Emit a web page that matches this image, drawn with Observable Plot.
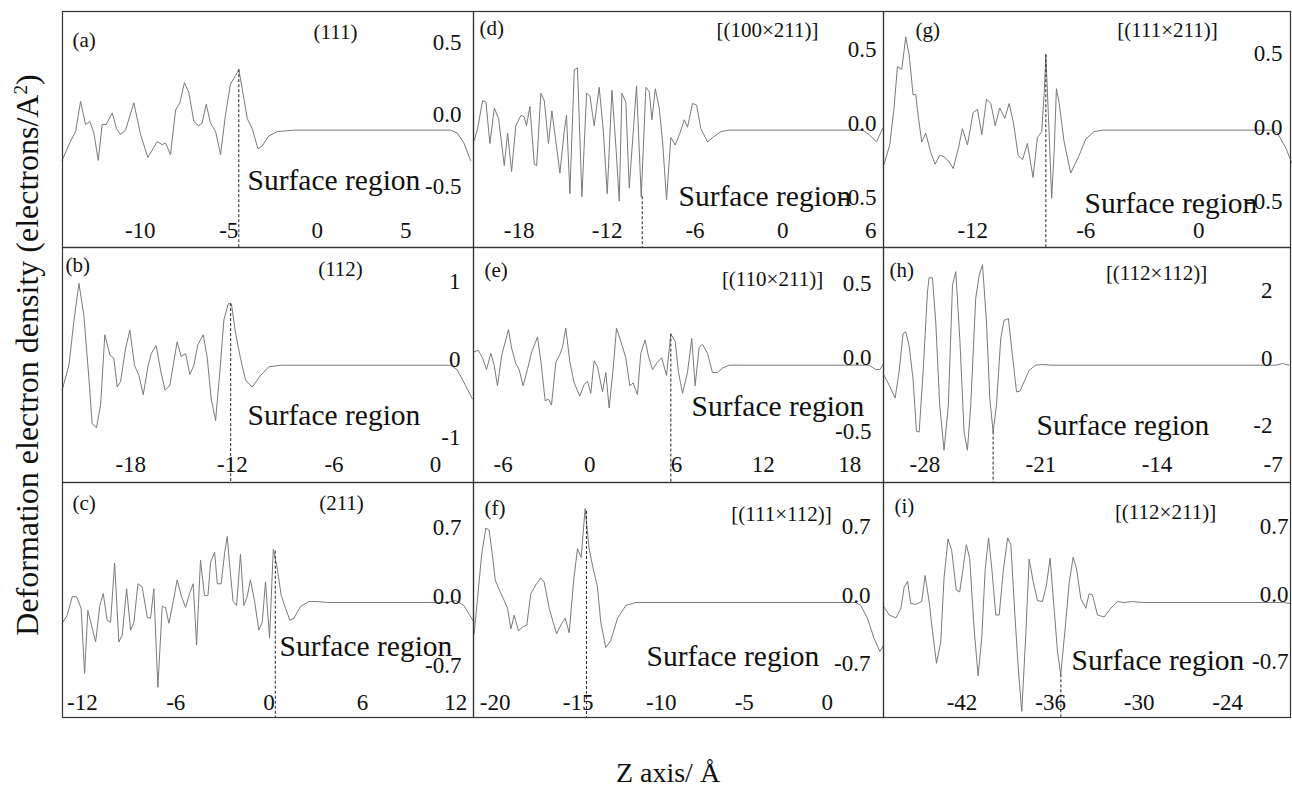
<!DOCTYPE html>
<html>
<head>
<meta charset="utf-8">
<script src="https://cdn.jsdelivr.net/npm/d3@7"></script>
<script src="https://cdn.jsdelivr.net/npm/@observablehq/plot@0.6"></script>
<style>
  body { margin: 0; background: #fff; }
  #page { position: relative; width: 1292px; height: 789px; overflow: hidden;
          font-family: "Liberation Serif", "Times New Roman", serif; color: #111; }
  .panel { position: absolute; }
  .panel svg { display: block; overflow: visible; }
  #ylab { position: absolute; left: 27px; top: 355px; line-height: 1; font-size: 32px;
          white-space: nowrap; transform: translate(-50%, -50%) rotate(-90deg); }
  #ylab sup { font-size: 60%; }
  #xlab { position: absolute; left: 668px; top: 759px; line-height: 1; font-size: 28px;
          white-space: nowrap; transform: translateX(-50%); }
</style>
</head>
<body>
<div id="page">
  <div id="ylab">Deformation electron density (electrons/A<sup>2</sup>)</div>
  <div id="xlab">Z axis/ Å</div>
</div>
<script>
// ---------- data (Z in Å, deformation density in electrons/Å²) ----------
const aZ = [-14.41,-14.03,-13.65,-13.37,-13.09,-12.84,-12.62,-12.37,-12.15,-11.92,-11.58,-11.34,-11.11,-10.83,-10.36,-9.98,-9.57,-9.04,-8.76,-8.57,-8.29,-8.00,-7.76,-7.50,-7.25,-6.97,-6.69,-6.50,-6.27,-6.03,-5.74,-5.46,-5.18,-4.90,-4.61,-4.43,-4.24,-3.95,-3.67,-3.35,-3.11,-2.73,-2.26,-1.32,7.53,7.91,8.29,8.66];
const aRho = [-0.21,-0.10,-0.01,0.20,0.04,0.06,-0.02,-0.21,0.04,0.04,0.12,0.01,-0.03,0.00,0.19,-0.03,-0.19,-0.08,-0.10,-0.09,-0.17,0.14,0.19,0.33,0.26,0.06,0.03,0.05,0.18,0.05,-0.01,-0.17,0.11,0.32,0.38,0.42,0.29,0.08,0.01,-0.13,-0.11,-0.04,-0.01,0.00,0.00,-0.02,-0.09,-0.21];

const bZ = [-22.05,-21.65,-21.36,-21.06,-20.77,-20.47,-20.28,-20.02,-19.78,-19.53,-19.23,-19.00,-18.80,-18.60,-18.31,-18.05,-17.78,-17.52,-17.26,-16.99,-16.79,-16.50,-16.24,-15.98,-15.69,-15.26,-15.02,-14.76,-14.51,-14.27,-14.04,-13.72,-13.48,-13.25,-12.99,-12.74,-12.50,-12.24,-12.05,-11.81,-11.52,-11.22,-10.83,-10.33,-9.84,-9.15,0.89,1.28,1.77,2.17];
const bRho = [-0.32,0.00,0.56,1.05,0.64,-0.17,-0.75,-0.80,-0.51,0.39,0.13,0.09,-0.28,-0.21,0.21,0.45,0.00,-0.13,-0.38,-0.02,0.15,0.25,-0.06,-0.32,-0.26,0.30,0.11,0.15,-0.12,0.00,0.26,0.39,0.09,-0.43,-0.71,-0.09,0.58,0.79,0.78,0.41,0.09,-0.19,-0.28,-0.13,-0.02,0.00,0.00,-0.06,-0.26,-0.43];

const cZ = [-13.30,-12.98,-12.65,-12.38,-12.08,-11.86,-11.65,-11.37,-11.15,-10.88,-10.66,-10.41,-10.19,-9.93,-9.66,-9.44,-9.16,-8.90,-8.69,-8.43,-8.16,-7.83,-7.62,-7.41,-7.15,-6.87,-6.66,-6.44,-6.16,-5.91,-5.65,-5.37,-5.09,-4.88,-4.66,-4.41,-4.15,-3.93,-3.76,-3.50,-3.33,-3.08,-2.86,-2.69,-2.52,-2.31,-2.09,-1.84,-1.62,-1.41,-1.20,-0.93,-0.66,-0.44,-0.23,0.03,0.27,0.52,0.78,1.06,1.34,1.59,2.02,2.56,3.09,3.74,11.45,11.99,12.52,13.17];
const cRho = [-0.21,-0.13,0.06,0.06,-0.06,-0.72,-0.08,-0.26,-0.40,-0.03,0.09,-0.18,-0.20,0.40,-0.40,-0.33,0.14,-0.28,-0.20,0.19,0.16,-0.15,-0.16,0.14,-0.86,-0.04,-0.05,-0.21,0.01,0.23,0.07,-0.05,0.10,0.19,-0.43,0.43,0.07,0.07,0.41,0.51,0.19,0.19,0.50,0.67,0.35,0.01,-0.03,0.49,-0.03,0.06,0.23,0.01,-0.28,-0.20,0.21,-0.36,0.54,0.35,0.07,-0.06,-0.18,-0.16,-0.04,0.01,0.01,0.00,0.00,0.02,-0.03,-0.20];

const dZ = [-21.07,-20.84,-20.50,-20.27,-20.00,-19.70,-19.41,-19.02,-18.79,-18.52,-18.23,-17.88,-17.66,-17.50,-17.27,-16.97,-16.81,-16.52,-16.29,-16.00,-15.77,-15.49,-15.22,-14.93,-14.77,-14.54,-14.24,-14.02,-13.72,-13.40,-13.17,-12.88,-12.54,-12.26,-11.99,-11.67,-11.40,-11.17,-10.99,-10.72,-10.49,-9.99,-9.67,-9.35,-9.12,-8.94,-8.71,-8.44,-8.21,-7.94,-7.65,-7.35,-7.03,-6.73,-6.51,-6.17,-5.89,-5.60,-5.14,-4.80,-4.23,-3.66,5.44,5.89,6.39,6.80];
const dRho = [-0.07,0.01,0.20,0.19,-0.09,0.15,0.08,-0.24,-0.02,-0.28,0.03,0.10,0.09,0.03,0.16,-0.23,-0.24,0.25,0.20,-0.09,0.13,-0.08,-0.29,-0.01,0.10,-0.43,0.41,0.42,-0.45,0.25,0.23,0.03,0.29,0.00,-0.43,0.27,-0.11,-0.48,0.25,0.19,-0.39,0.30,-0.45,0.29,0.26,0.07,0.28,0.15,-0.08,-0.47,-0.05,-0.10,-0.02,0.07,0.02,0.18,0.17,0.01,-0.08,-0.05,-0.01,0.00,0.00,-0.03,-0.08,0.01];

const eZ = [-8.01,-7.71,-7.43,-7.15,-6.85,-6.62,-6.39,-6.09,-5.63,-5.40,-5.12,-4.89,-4.62,-4.32,-4.02,-3.62,-3.39,-3.09,-2.86,-2.65,-2.35,-2.08,-1.89,-1.66,-1.38,-1.08,-0.69,-0.39,-0.16,0.07,0.30,0.53,0.88,1.11,1.34,1.62,1.85,2.15,2.49,2.77,3.00,3.30,3.53,3.83,4.06,4.34,4.68,4.98,5.31,5.61,5.91,6.14,6.42,6.76,7.06,7.29,7.57,7.80,8.15,8.49,8.84,9.19,9.65,10.34,19.34,19.80,20.08,20.33];
const eRho = [0.09,0.10,0.05,-0.03,0.08,0.00,-0.14,0.07,0.24,0.11,0.01,-0.03,-0.14,-0.03,0.09,0.19,0.03,-0.24,-0.23,-0.27,0.02,0.07,0.12,0.25,0.02,-0.12,-0.21,-0.13,-0.11,-0.19,0.03,-0.01,-0.18,-0.05,-0.29,-0.02,0.25,0.16,0.05,-0.14,-0.12,-0.20,0.08,0.17,0.06,-0.03,0.02,0.05,-0.07,0.21,0.16,-0.05,-0.19,-0.05,0.18,-0.14,0.12,0.14,0.08,-0.05,-0.05,-0.02,0.00,0.00,0.00,-0.03,-0.03,0.01];

const fZ = [-21.26,-21.06,-20.80,-20.56,-20.36,-20.19,-19.99,-19.75,-19.45,-19.25,-19.05,-18.85,-18.59,-18.35,-18.09,-17.85,-17.55,-17.25,-17.05,-16.74,-16.54,-16.30,-16.04,-15.78,-15.54,-15.28,-15.04,-14.82,-14.58,-14.34,-14.10,-13.84,-13.64,-13.34,-13.04,-12.63,-12.13,-11.53,1.71,2.01,2.41,2.82,3.16,3.38];
const fRho = [-0.32,0.04,0.50,0.76,0.74,0.52,0.23,0.13,0.02,-0.06,-0.27,-0.13,-0.29,-0.25,-0.23,0.09,0.18,0.25,0.21,-0.06,-0.18,-0.32,-0.23,-0.16,-0.31,0.21,0.55,0.46,0.96,0.55,0.35,0.16,-0.20,-0.46,-0.39,-0.16,-0.03,0.00,0.00,-0.03,-0.16,-0.37,-0.50,-0.44];

const gZ = [-16.71,-16.41,-16.18,-16.00,-15.77,-15.56,-15.38,-15.17,-15.03,-14.88,-14.71,-14.50,-14.23,-14.00,-13.75,-13.52,-13.27,-13.04,-12.76,-12.55,-12.28,-11.98,-11.75,-11.52,-11.27,-11.04,-10.81,-10.57,-10.30,-10.07,-9.84,-9.59,-9.36,-9.10,-8.80,-8.57,-8.34,-8.21,-8.12,-8.00,-7.81,-7.68,-7.56,-7.42,-7.15,-6.80,-6.35,-6.00,-5.56,-5.12,3.91,4.18,4.62,4.97];
const gRho = [-0.23,-0.10,0.15,0.43,0.41,0.63,0.51,0.24,0.24,0.08,-0.08,-0.02,-0.15,-0.23,-0.17,-0.18,-0.21,-0.26,-0.12,0.01,-0.10,0.12,0.14,-0.03,0.21,0.18,0.03,0.15,0.08,0.18,0.05,-0.17,-0.20,-0.09,-0.32,-0.05,-0.01,0.25,0.51,0.15,-0.46,-0.15,0.28,0.19,-0.08,-0.29,-0.17,-0.06,-0.01,0.00,0.00,-0.02,-0.12,-0.23];

const hZ = [-30.45,-30.15,-29.79,-29.55,-29.31,-29.15,-28.95,-28.71,-28.50,-28.34,-28.10,-27.84,-27.74,-27.54,-27.34,-27.10,-26.84,-26.58,-26.33,-26.13,-25.89,-25.63,-25.43,-25.23,-24.93,-24.72,-24.52,-24.28,-24.08,-23.88,-23.68,-23.42,-23.22,-22.96,-22.72,-22.47,-22.27,-22.01,-21.71,-21.31,-20.91,-20.30,-6.84,-6.44,-6.04];
const hRho = [-0.30,-0.59,-0.97,-0.20,0.94,0.99,0.59,-0.40,-1.96,-1.98,-0.20,2.17,2.59,2.59,1.28,-1.19,-2.52,-1.19,2.37,2.77,0.79,-1.98,-2.52,-1.19,1.98,2.67,2.98,1.28,-0.99,-1.98,-1.19,0.79,1.33,1.38,0.30,-0.79,-0.77,-0.49,-0.15,0.00,0.02,0.00,0.00,0.05,0.00];

const iZ = [-47.27,-46.93,-46.48,-46.14,-45.92,-45.69,-45.47,-45.14,-44.73,-44.50,-44.23,-44.00,-43.73,-43.44,-43.22,-42.95,-42.70,-42.39,-42.16,-41.93,-41.71,-41.48,-41.18,-40.91,-40.66,-40.43,-40.20,-39.98,-39.71,-39.48,-39.21,-38.91,-38.69,-38.40,-38.17,-37.95,-37.68,-37.45,-37.18,-36.89,-36.55,-36.28,-36.03,-35.76,-35.53,-35.31,-35.01,-34.74,-34.47,-34.24,-33.95,-33.61,-33.39,-33.16,-32.82,-32.37,-31.92,-31.47,-31.01,-30.45,-29.77,-20.28,-19.72];
const iRho = [-0.05,-0.13,-0.16,-0.06,0.16,0.22,-0.01,-0.02,0.01,0.28,0.01,-0.30,-0.63,-0.41,0.25,0.66,0.54,0.13,0.11,0.35,0.60,0.46,-0.27,-0.76,-0.36,0.34,0.67,0.35,-0.13,-0.13,0.32,0.67,0.60,-0.17,-0.72,-1.13,-0.34,0.45,0.22,0.02,0.01,0.18,0.46,-0.06,-0.51,-0.75,-0.27,0.20,0.47,0.35,0.04,-0.06,0.09,0.08,-0.13,-0.15,-0.06,0.01,0.00,0.01,0.00,0.00,-0.01];

// surface boundary (dashed line): position and starting density
const dashZ   = { a: -4.43, b: -12.1, c: 0.4,  d: -9.6,  e: 5.61, f: -14.5, g: -8.12, h: -23.88, i: -35.3 };
const dashRho = { a: 0.42,  b: 0.79,  c: 0.52, d: -0.45, e: 0.21, f: 0.93,  g: 0.51,  h: -1.98,  i: -0.75 };

// tick labels
const xTicks = { a: [-10,-5,0,5], b: [-18,-12,-6,0], c: [-12,-6,0,6,12],
                 d: [-18,-12,-6,0,6], e: [-6,0,6,12,18], f: [-20,-15,-10,-5,0],
                 g: [-12,-6,0], h: [-28,-21,-14,-7], i: [-42,-36,-30,-24] };
const yTicks = { a: [-0.5,0,0.5], b: [-1,0,1], c: [-0.7,0,0.7],
                 d: [-0.5,0,0.5], e: [-0.5,0,0.5], f: [-0.7,0,0.7],
                 g: [-0.5,0,0.5], h: [-2,0,2], i: [-0.7,0,0.7] };
const yDecimals = { a: 1, b: 0, c: 1, d: 1, e: 1, f: 1, g: 1, h: 0, i: 1 };

const panelLabels = { a: "(a)", b: "(b)", c: "(c)", d: "(d)", e: "(e)", f: "(f)", g: "(g)", h: "(h)", i: "(i)" };
const panelTitles = { a: "(111)", b: "(112)", c: "(211)", d: "[(100×211)]", e: "[(110×211)]",
                      f: "[(111×112)]", g: "[(111×211)]", h: "[(112×112)]", i: "[(112×211)]" };
const surfaceText = "Surface region";

// ---------- layout ----------
const colLeft = [62, 473, 883], colWidth = [411, 410, 407];
const rowTop = [11, 247, 482], rowHeight = [236, 235, 235];

const series = { a: [aZ, aRho], b: [bZ, bRho], c: [cZ, cRho], d: [dZ, dRho], e: [eZ, eRho],
                 f: [fZ, fRho], g: [gZ, gRho], h: [hZ, hRho], i: [iZ, iRho] };

// per-panel view: axis domains and text placement (pixels inside the panel)
const view = {
  a: { col: 0, row: 0, xd: [-14.39, 8.83],  yd: [-0.815, 0.824], ydx: -12, ydy: -16, xdy: -17,
       lab: [10, 29], tit: [273, 21], sur: [185, 169] },
  b: { col: 0, row: 1, xd: [-22.03, 2.24],  yd: [-1.504, 1.509], ydx: -13, ydy: -6, xdy: -18,
       lab: [3, 18], tit: [278, 22], sur: [185, 168] },
  c: { col: 0, row: 2, xd: [-13.28, 13.14], yd: [-1.166, 1.217], ydx: -12, ydy: -6, xdy: -15,
       lab: [10, 21], tit: [279, 21], sur: [217, 164] },
  d: { col: 1, row: 0, xd: [-21.12, 6.87],  yd: [-0.793, 0.802], ydx: -7, ydy: -7, xdy: -17,
       lab: [6, 17], tit: [294, 19], sur: [205, 185] },
  e: { col: 1, row: 1, xd: [-8.05, 20.33],  yd: [-0.793, 0.795], ydx: -12, ydy: -8, xdy: -18,
       lab: [11, 23], tit: [299, 32], sur: [218, 159] },
  f: { col: 1, row: 2, xd: [-21.30, 3.38],  yd: [-1.175, 1.226], ydx: -13, ydy: -7, xdy: -15,
       lab: [11, 26], tit: [308, 32], sur: [173, 174] },
  g: { col: 2, row: 0, xd: [-16.74, 4.87],  yd: [-0.793, 0.802], ydx: -8, ydy: -3, xdy: -17,
       lab: [32, 19], tit: [284, 19], sur: [201, 192] },
  h: { col: 2, row: 1, xd: [-30.49, -5.95], yd: [-3.476, 3.487], ydx: -18, ydy: -7, xdy: -18,
       lab: [6, 23], tit: [273, 26], sur: [153, 178] },
  i: { col: 2, row: 2, xd: [-47.32, -19.74], yd: [-1.193, 1.245], ydx: -2, ydy: -8, xdy: -15,
       lab: [11, 24], tit: [282, 30], sur: [188, 178] }
};

const page = document.getElementById("page");
const FONT = '"Liberation Serif", "Times New Roman", serif';

for (const k of Object.keys(view)) {
  const v = view[k];
  const [zs, rs] = series[k];
  const pts = zs.map((z, j) => ({ z, rho: rs[j] }));
  const w = colWidth[v.col], h = rowHeight[v.row];
  const dec = yDecimals[k];
  const chart = Plot.plot({
    width: w, height: h, margin: 0,
    x: { domain: v.xd, label: null },
    y: { domain: v.yd, label: null },
    style: { background: "transparent", overflow: "visible", fontFamily: FONT, color: "#111" },
    marks: [
      Plot.line(pts, { x: "z", y: "rho", stroke: "#7a7a7a", strokeWidth: 1 }),
      Plot.ruleX([{ x: dashZ[k], y1: dashRho[k], y2: v.yd[0] }],
                 { x: "x", y1: "y1", y2: "y2", stroke: "#222", strokeWidth: 1, strokeDasharray: "3,2" }),
      Plot.axisX({ ticks: xTicks[k], anchor: "bottom", tickSize: 0, tickPadding: 0, label: null,
                   lineAnchor: "middle", dy: v.xdy, fontSize: 23, tickFormat: d => String(d) }),
      Plot.axisY({ ticks: yTicks[k], anchor: "right", tickSize: 0, tickPadding: 0, label: null,
                   textAnchor: "end", lineAnchor: "middle", dx: v.ydx, dy: v.ydy, fontSize: 23,
                   tickFormat: d => d.toFixed(dec) }),
      Plot.text([panelLabels[k]], { frameAnchor: "top-left", textAnchor: "start", lineAnchor: "middle",
                   dx: v.lab[0], dy: v.lab[1], fontSize: 21 }),
      Plot.text([panelTitles[k]], { frameAnchor: "top-left", textAnchor: "middle", lineAnchor: "middle",
                   dx: v.tit[0], dy: v.tit[1], fontSize: 21 }),
      Plot.text([surfaceText], { frameAnchor: "top-left", textAnchor: "start", lineAnchor: "middle",
                   dx: v.sur[0], dy: v.sur[1], fontSize: 29.5 }),
      Plot.frame({ stroke: "#333", strokeWidth: 1.2 })
    ]
  });
  const holder = document.createElement("div");
  holder.className = "panel";
  holder.style.left = colLeft[v.col] + "px";
  holder.style.top = rowTop[v.row] + "px";
  holder.appendChild(chart);
  page.appendChild(holder);
}
</script>
</body>
</html>
